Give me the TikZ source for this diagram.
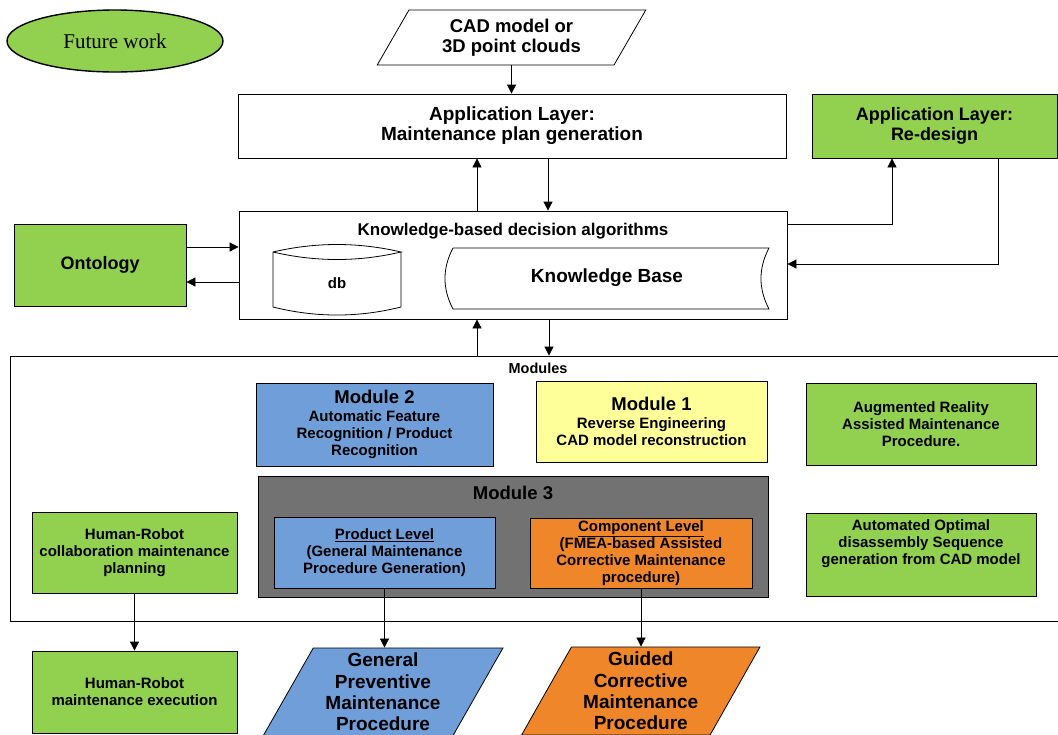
\documentclass[tikz,border=0pt]{standalone}
\usepackage{fontspec}
\setmainfont{Liberation Sans}
\newfontfamily\serifface{Liberation Serif}
\usetikzlibrary{shapes.geometric,arrows.meta}
\definecolor{fwgreen}{HTML}{92D050}
\definecolor{modblue}{HTML}{709ED9}
\definecolor{modyellow}{HTML}{FFFF99}
\definecolor{modorange}{HTML}{F0862A}
\definecolor{modgray}{HTML}{727272}
\newcommand\setfs[2]{\fontsize{#1}{#2}\selectfont\bfseries}
\begin{document}
\begin{tikzpicture}[x=1pt,y=-1pt,
  box/.style={draw=black, line width=0.8pt, inner sep=2pt, align=center, font=\setfs{15}{17}},
  greenbox/.style={box, fill=fwgreen},
  bluebox/.style={box, fill=modblue},
  para/.style={trapezium, trapezium stretches=true, draw=black, line width=0.8pt, align=center, inner sep=0pt},
  arr/.style={-{Triangle[length=9pt,width=9pt]}, line width=0.8pt, draw=black},
  outline/.style={line width=0.8pt, draw=black}]
\clip (0,0) rectangle (1058,734);

% legend
\node[ellipse, draw=black, line width=1.4pt, fill=fwgreen, minimum width=216pt, minimum height=62pt, inner sep=0pt,
      font=\serifface\fontsize{21}{24}\selectfont] (future) at (115,41) {Future work};

% input and application layers
\node[para, trapezium left angle=60, trapezium right angle=120, minimum width=269pt, minimum height=55pt,
      fill=white, font=\setfs{18.5}{20}] (cad) at (511.5,37.5) {CAD model or\\3D point clouds};
\node[box, minimum width=548pt, minimum height=64pt, font=\setfs{19}{20}] (app) at (512,126)
      {Application Layer:\\Maintenance plan generation};
\node[greenbox, minimum width=245pt, minimum height=64pt, font=\setfs{18}{20}] (rd) at (934.5,126)
      {Application Layer:\\Re-design};

% knowledge layer: database cylinder and stored-data shape
\node[box, minimum width=548pt, minimum height=108pt] (kb) at (513,265) {};
\node[font=\setfs{17}{19}] (kbtitle) at (513,231) {Knowledge-based decision algorithms};
\draw[outline] (273,252) .. controls (315.7,242) and (358.3,242) .. (401,252)
      .. controls (358.3,262) and (315.7,262) .. (273,252)
      -- (273,307) .. controls (315.7,317.7) and (358.3,317.7) .. (401,307) -- (401,252);
\node[font=\setfs{15}{17}] (db) at (337,283) {db};
\draw[outline] (453,248) -- (769,248) .. controls (758.3,268.3) and (758.3,288.7) .. (769,309) -- (453,309)
      .. controls (442.3,288.7) and (442.3,268.3) .. (453,248);
\node[font=\setfs{19}{21}] (kbase) at (607,278) {Knowledge Base};
\node[greenbox, minimum width=172pt, minimum height=82pt, font=\setfs{18}{20}] (ont) at (100,265) {Ontology};

% modules frame
\node[draw=black, line width=0.8pt, minimum width=1060pt, minimum height=265pt, inner sep=0pt] (modules) at (540,488.5) {};
\node[font=\setfs{14.5}{16}] (modlabel) at (538,368) {Modules};

\node[bluebox, minimum width=237pt, minimum height=83pt] (mod2) at (374.5,424.5)
      {{\setfs{18.5}{20}Module 2}\\[1pt]Automatic Feature\\Recognition / Product\\Recognition};
\node[box, fill=modyellow, minimum width=231pt, minimum height=81pt] (mod1) at (651.5,421.5)
      {{\setfs{18.5}{20}Module 1}\\[1pt]Reverse Engineering\\CAD model reconstruction};
\node[greenbox, minimum width=230pt, minimum height=82pt] (ar) at (921,424)
      {Augmented Reality\\Assisted Maintenance\\Procedure.};

\node[draw=black, line width=0.8pt, fill=modgray, minimum width=510pt, minimum height=121pt] (mod3) at (513,536.5) {};
\node[font=\setfs{18.5}{20}] (mod3title) at (513,493) {Module 3};
\node[bluebox, minimum width=221pt, minimum height=71pt] (prod) at (384.5,552.5)
      {\underline{Product Level}\\(General Maintenance\\Procedure Generation)};
\node[box, fill=modorange, minimum width=222pt, minimum height=70pt] (comp) at (641,553)
      {\underline{Component Level}\\(FMEA-based Assisted\\Corrective Maintenance\\procedure)};

\node[greenbox, minimum width=205pt, minimum height=81pt] (hrc) at (134.5,552.5)
      {Human-Robot\\collaboration maintenance\\planning};
\node[greenbox, minimum width=230pt, minimum height=83pt] (auto) at (921,554.5) {};
\node[font=\setfs{15}{17}, align=center] (autotext) at (921,544)
      {Automated Optimal\\disassembly Sequence\\generation from CAD model};

% outputs
\node[greenbox, minimum width=205pt, minimum height=82pt] (hre) at (134.5,692)
      {Human-Robot\\maintenance execution};
\node[para, trapezium left angle=62, trapezium right angle=118, minimum width=240pt, minimum height=88pt,
      fill=modblue, font=\setfs{19}{21.3}] (gp) at (383,692) {General\\Preventive\\Maintenance\\Procedure};
\node[para, trapezium left angle=62, trapezium right angle=118, minimum width=238.5pt, minimum height=88pt,
      fill=modorange, font=\setfs{19}{21.3}] (gc) at (640.75,691) {Guided\\Corrective\\Maintenance\\Procedure};

% connectors
\draw[arr] (cad.south) -- (cad.south |- app.north);
\draw[arr] ([xshift=-36pt]kb.north) -- ([xshift=-36pt]kb.north |- app.south);
\draw[arr] ([xshift=36pt]app.south) -- ([xshift=36pt]app.south |- kb.north);
\draw[arr] ([xshift=-36pt]kb.south |- modules.north) -- ([xshift=-36pt]kb.south);
\draw[arr] ([xshift=36pt]kb.south) -- ([xshift=36pt]kb.south |- modules.north);
\draw[arr] ([yshift=18pt]ont.east) -- ([yshift=18pt]ont.east -| kb.west);
\draw[arr] ([yshift=-17pt]ont.east -| kb.west) -- ([yshift=-17pt]ont.east);
\draw[arr] ([yshift=41pt]kb.east) -| ([xshift=-42.5pt]rd.south);
\draw[arr] ([xshift=63.5pt]rd.south) |- ([yshift=1pt]kb.east);
\draw[arr] (hrc.south) -- (hre.north);
\draw[arr] (prod.south) -- (prod.south |- gp.north);
\draw[arr] (comp.south) -- (comp.south |- gc.north);
\end{tikzpicture}
\end{document}
